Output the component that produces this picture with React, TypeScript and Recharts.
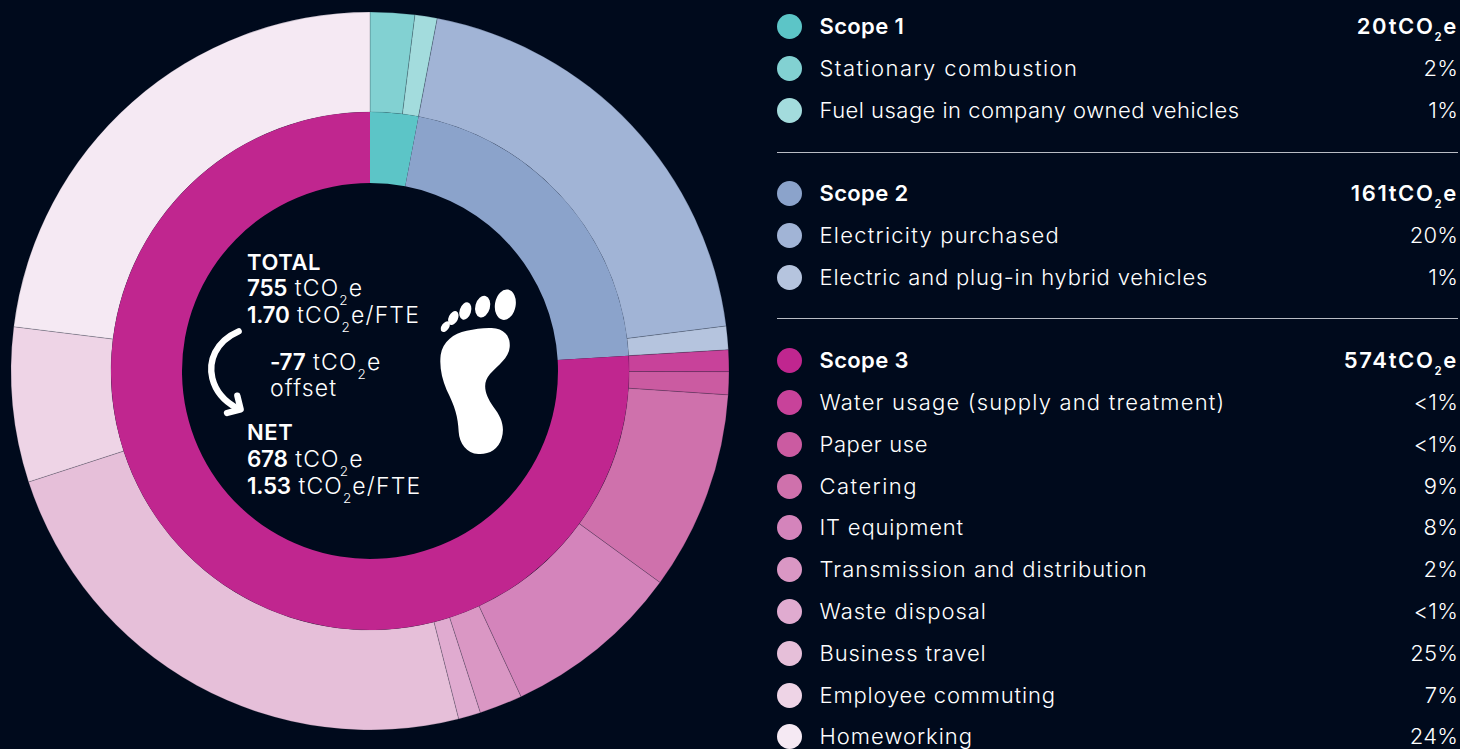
import React from "react";
import { PieChart, Pie, Cell } from "recharts";

const BG = "#000a1c";
const FONT = "Inter, sans-serif";

const scopeNames = ["Scope 1", "Scope 2", "Scope 3"];
const scopeValues = [3.0, 21.06, 75.94];
const scopeColors = ["#5cc5c7", "#8ba3cb", "#c0268f"];
const scopeTotals = ["20", "161", "574"];

const sourceNames = [
  "Stationary combustion",
  "Fuel usage in company owned vehicles",
  "Electricity purchased",
  "Electric and plug-in hybrid vehicles",
  "Water usage (supply and treatment)",
  "Paper use",
  "Catering",
  "IT equipment",
  "Transmission and distribution",
  "Waste disposal",
  "Business travel",
  "Employee commuting",
  "Homeworking",
];
const sourceValues = [2.0, 1.0, 20.0, 1.06, 0.97, 1.03, 8.97, 8.06, 1.94, 1.0, 23.97, 6.97, 23.03];
const sourceColors = [
  "#82d1d2", "#a3dcdd", "#a1b4d6", "#b5c4de", "#c8429a", "#cb5ba1", "#cf71ac",
  "#d484bb", "#da97c4", "#e0abd0", "#e6bfd9", "#eed4e6", "#f5e9f3",
];
const sourceLabels = ["2%", "1%", "20%", "1%", "<1%", "<1%", "9%", "8%", "2%", "<1%", "25%", "7%", "24%"];
const sourceTracking = [1.43, 0.47, 1.24, 0.8, 1.19, 0.61, 1.47, 0.8, 1.0, 1.0, 0.85, 0.83, 1.0];
const groupSizes = [2, 2, 9];

const innerData = scopeNames.map((name, i) => ({ name, value: scopeValues[i] }));
const outerData = sourceNames.map((name, i) => ({ name, value: sourceValues[i] }));

const Co2 = ({ suffix = "", size = 13.5, drop = 9 }: { suffix?: string; size?: number; drop?: number }) => (
  <>
    tCO<sub style={{ fontSize: size, lineHeight: 0, verticalAlign: -drop }}>2</sub>e{suffix}
  </>
);

const rowStyle = (y: number): React.CSSProperties => ({
  position: "absolute", left: 0, top: y - 15, width: 1460, height: 30, lineHeight: "30px", whiteSpace: "nowrap",
});

function Row({ y, color, label, right, bold, tracking }: { y: number; color: string; label: string; right: React.ReactNode; bold?: boolean; tracking?: number }) {
  return (
    <div style={rowStyle(y)}>
      <span style={{ position: "absolute", left: 777, top: 2.5, width: 25, height: 25, borderRadius: 13, background: color }} />
      <span style={{ position: "absolute", left: 819.5, fontWeight: bold ? 600 : 300, letterSpacing: bold ? 0.35 : tracking }}>{label}</span>
      <span style={{ position: "absolute", right: 2, fontWeight: bold ? 600 : 300, letterSpacing: bold ? 1.65 : 0.2 }}>{right}</span>
    </div>
  );
}

function Legend() {
  const rows: React.ReactNode[] = [];
  const lines: number[] = [];
  const ys = [26, 68, 110, 193, 235, 277, 360, 402, 444, 486, 527, 569, 611, 653, 695, 736];
  let n = 0, s = 0;
  groupSizes.forEach((size, g) => {
    rows.push(
      <Row key={"s" + g} y={ys[n++]} color={scopeColors[g]} label={scopeNames[g]} bold
        right={<>{scopeTotals[g]}<Co2 size={11.5} drop={7} /></>} />
    );
    for (let i = 0; i < size; i++, s++) {
      rows.push(<Row key={"r" + s} y={ys[n++]} color={sourceColors[s]} label={sourceNames[s]} right={sourceLabels[s]} tracking={sourceTracking[s]} />);
    }
    if (g < 2) lines.push(g === 0 ? 152 : 318);
  });
  return (
    <>
      {rows}
      {lines.map((y) => (
        <div key={y} style={{ position: "absolute", left: 777, top: y, width: 681, height: 1, background: "#b9bcc4" }} />
      ))}
    </>
  );
}

const centerLine = (x: number, y: number, node: React.ReactNode) => (
  <div key={y} style={{ position: "absolute", left: x, top: y - 14, height: 28, lineHeight: "28px", whiteSpace: "nowrap", fontSize: 23, fontWeight: 300, letterSpacing: 1.15 }}>
    {node}
  </div>
);
const B = ({ children }: { children: React.ReactNode }) => <span style={{ fontWeight: 600, fontSize: 22.5, letterSpacing: -0.3 }}>{children}</span>;
const H = ({ children }: { children: React.ReactNode }) => <span style={{ fontWeight: 600, fontSize: 22, letterSpacing: 0.6 }}>{children}</span>;

function FootAndArrow() {
  return (
    <svg width={380} height={290} viewBox="0 0 1140 870" style={{ position: "absolute", left: 180, top: 230 }}>
      <g fill="#fff">
        <ellipse cx="976" cy="224" rx="31" ry="46" transform="rotate(10 976 224)" />
        <ellipse cx="908" cy="230" rx="22" ry="33" transform="rotate(15 908 230)" />
        <ellipse cx="856" cy="243" rx="17" ry="27" transform="rotate(18 856 243)" />
        <ellipse cx="820" cy="264" rx="14" ry="22" transform="rotate(25 820 264)" />
        <ellipse cx="796" cy="290" rx="11" ry="18" transform="rotate(35 796 290)" />
        <path d="M935 294 C975 296 992 320 989 352 C986 385 955 405 930 432 C905 460 915 495 940 530 C965 562 975 590 965 625 C955 660 925 674 895 672 C860 670 838 640 836 605 C834 560 825 530 800 480 C785 445 778 410 782 375 C788 335 820 310 860 302 C885 297 910 293 935 294 Z" />
      </g>
      <g fill="none" stroke="#fff" strokeWidth="19" strokeLinecap="round" strokeLinejoin="round">
        <path d="M176 304 C105 335 85 395 97 445 C107 485 135 515 170 534" />
        <path d="M172 497 L182 538 L141 549" />
      </g>
    </svg>
  );
}

export default function App() {
  const cx = 370, cy = 371;
  return (
    <div style={{ position: "relative", width: 1460, height: 749, background: BG, color: "#fff", fontFamily: FONT, fontSize: 22, overflow: "hidden" }}>
      <style>{`html,body{margin:0;padding:0;background:${BG};overflow:hidden}`}</style>
      <PieChart width={760} height={749} style={{ position: "absolute", left: 0, top: 0 }} margin={{ top: 0, right: 0, bottom: 0, left: 0 }}>
        <Pie data={outerData} dataKey="value" cx={cx} cy={cy} innerRadius={259} outerRadius={359} startAngle={90} endAngle={-270}
          stroke="#000a1c" strokeOpacity={0.3} strokeWidth={0.6} isAnimationActive={false}>
          {outerData.map((d, i) => <Cell key={d.name} fill={sourceColors[i]} />)}
        </Pie>
        <Pie data={innerData} dataKey="value" cx={cx} cy={cy} innerRadius={188} outerRadius={259} startAngle={90} endAngle={-270}
          stroke="none" isAnimationActive={false}>
          {innerData.map((d, i) => <Cell key={d.name} fill={scopeColors[i]} />)}
        </Pie>
      </PieChart>
      <FootAndArrow />
      {centerLine(247, 262, <H>TOTAL</H>)}
      {centerLine(247, 288, <><B>755</B> <Co2 /></>)}
      {centerLine(247, 315, <><B>1.70</B> <Co2 suffix="/FTE" /></>)}
      {centerLine(270, 362, <><B>-77</B> <Co2 /></>)}
      {centerLine(270, 388, "offset")}
      {centerLine(247, 432, <H>NET</H>)}
      {centerLine(247, 459, <><B>678</B> <Co2 /></>)}
      {centerLine(247, 486, <><B>1.53</B> <Co2 suffix="/FTE" /></>)}
      <Legend />
    </div>
  );
}
